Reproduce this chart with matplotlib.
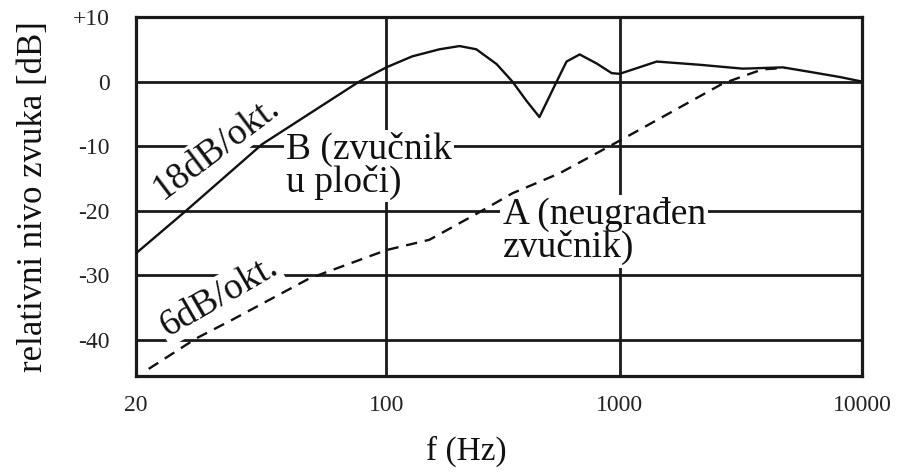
import numpy as np
import matplotlib
matplotlib.use("Agg")
import matplotlib.pyplot as plt

plt.rcParams['font.family'] = ['Liberation Serif', 'DejaVu Serif']

# ---- data ----
freq_b = [20, 27.6, 45, 84, 100, 129, 169, 206, 243, 297, 347, 399, 453, 537, 592,
          674, 797, 925, 1000, 1422, 2140, 3222, 4716, 6097, 8113, 10000]
level_b = [-26.6, -20, -9.7, 0, 2.2, 3.9, 5.0, 5.5, 5.0, 2.7, 0, -3, -5.5, 0, 3.1,
           4.2, 2.8, 1.3, 1.2, 3.1, 2.6, 2.0, 2.2, 1.5, 0.7, 0]

freq_a = [21.7, 29.4, 37.1, 60.9, 100, 153, 243, 347, 553, 906, 1100, 2665, 3444, 3899, 4808]
level_a = [-44.5, -39.8, -36.9, -30.5, -26.1, -24.5, -20.5, -17.3, -14.2, -10, -8.3,
           -0.3, 1.2, 1.9, 2.1]

xticks = [20, 100, 1000, 10000]
xtick_labels = ["20", "100", "1000", "10000"]
yticks = [10, 0, -10, -20, -30, -40]
ytick_labels = ["+10", "0", "-10", "-20", "-30", "-40"]

# ---- the drawn frequency axis (logarithmic, first section stretched) ----
_lk = np.log10([20, 100, 1000, 10000])
_pk = np.array([0.0, 250.0, 483.0, 725.0])

def fwd(x):
    x = np.asarray(x, dtype=float)
    return np.interp(np.log10(np.maximum(x, 1e-9)), _lk, _pk)

def inv(p):
    p = np.asarray(p, dtype=float)
    return 10 ** np.interp(p, _pk, _lk)

fig = plt.figure(figsize=(9.06, 4.72), dpi=100)
ax = fig.add_axes([136 / 906, 1 - 376 / 472, (862 - 136) / 906, (376 - 17) / 472])
ax.set_xscale('function', functions=(fwd, inv))
ax.set_xlim(20, 10000)
ax.set_ylim(-45.6, 10)

gc = '#1a1a1a'
for y in [0, -10, -20, -30, -40]:
    ax.axhline(y, color=gc, lw=2.0, zorder=1)
for x in [100, 1000]:
    ax.axvline(x, color=gc, lw=2.0, zorder=1)

ax.plot(freq_b, level_b, color='#111111', lw=1.7, zorder=4, solid_joinstyle='round')
ax.plot(freq_a, level_a, color='#111111', lw=1.7, zorder=4, dashes=(4.8, 3.3))

for s in ax.spines.values():
    s.set_linewidth(2.3)
    s.set_color(gc)

ax.set_xticks(xticks)
ax.set_xticklabels(xtick_labels)
ax.set_yticks(yticks)
ax.set_yticklabels(ytick_labels)
ax.xaxis.set_minor_locator(matplotlib.ticker.NullLocator())
ax.tick_params(axis='both', length=0, labelsize=17, colors='#222222')
ax.tick_params(axis='y', pad=19)
ax.tick_params(axis='x', pad=14)

ax.set_ylabel("relativni nivo zvuka [dB]", fontsize=25, color='#111111')
ax.yaxis.set_label_coords(-0.118, 0.5)
ax.set_xlabel("f (Hz)", fontsize=24, color='#111111')
ax.xaxis.set_label_coords(0.455, -0.165)

tkw = dict(fontsize=27, color='#111111', zorder=3,
           bbox=dict(facecolor='white', edgecolor='none', pad=1.5))
ax.text(52.5, -13.1, "B (zvučnik\nu ploči)", ha='left', va='center', linespacing=0.92, **tkw)
ax.text(315, -23.2, "A (neugrađen\nzvučnik)", ha='left', va='center', linespacing=0.92, **tkw)
ax.text(33.6, -10.3, "18dB/okt.", ha='center', va='center', rotation=37,
        rotation_mode='anchor', **tkw)
ax.text(34.1, -33.3, "6dB/okt.", ha='center', va='center', rotation=30,
        rotation_mode='anchor', **tkw)

fig.savefig("out.png", dpi=100, facecolor='white')
